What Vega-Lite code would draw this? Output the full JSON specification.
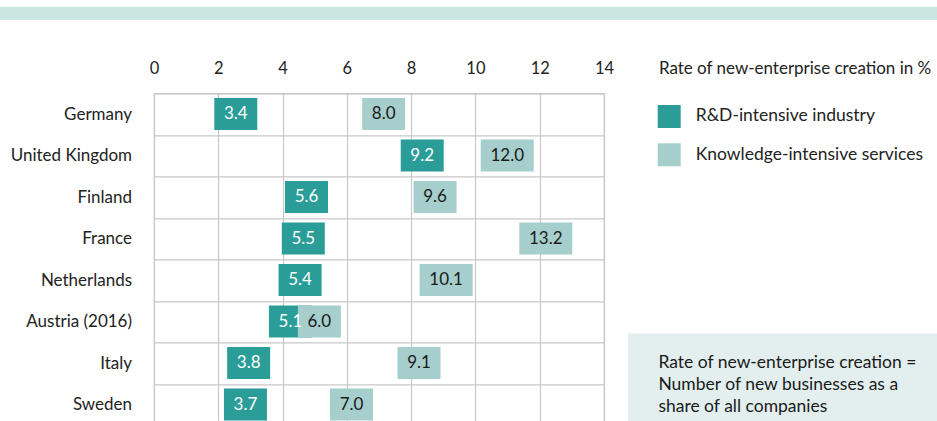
{
  "$schema": "https://vega.github.io/schema/vega-lite/v6.json",
  "padding": {"top": 6.7, "left": 0, "right": 0, "bottom": 0},
  "background": "white",
  "config": {"font": "Lato", "view": {"stroke": null}},
  "datasets": {
    "rates": [
      {"country": "Germany", "series": "R&D-intensive industry", "value": 3.4},
      {"country": "Germany", "series": "Knowledge-intensive services", "value": 8.0},
      {"country": "United Kingdom", "series": "R&D-intensive industry", "value": 9.2},
      {"country": "United Kingdom", "series": "Knowledge-intensive services", "value": 12.0},
      {"country": "Finland", "series": "R&D-intensive industry", "value": 5.6},
      {"country": "Finland", "series": "Knowledge-intensive services", "value": 9.6},
      {"country": "France", "series": "R&D-intensive industry", "value": 5.5},
      {"country": "France", "series": "Knowledge-intensive services", "value": 13.2},
      {"country": "Netherlands", "series": "R&D-intensive industry", "value": 5.4},
      {"country": "Netherlands", "series": "Knowledge-intensive services", "value": 10.1},
      {"country": "Austria (2016)", "series": "R&D-intensive industry", "value": 5.1},
      {"country": "Austria (2016)", "series": "Knowledge-intensive services", "value": 6.0},
      {"country": "Italy", "series": "R&D-intensive industry", "value": 3.8},
      {"country": "Italy", "series": "Knowledge-intensive services", "value": 9.1},
      {"country": "Sweden", "series": "R&D-intensive industry", "value": 3.7},
      {"country": "Sweden", "series": "Knowledge-intensive services", "value": 7.0}
    ]
  },
  "bounds": "flush",
  "spacing": 72.6,
  "vconcat": [
    {
      "width": 937, "height": 13.3,
      "view": {"fill": "#c9e6e1", "stroke": null},
      "data": {"values": []},
      "mark": "point",
      "encoding": {}
    },
    {
      "bounds": "flush",
      "spacing": 24,
      "hconcat": [
        {
          "width": 129.3, "height": 10,
          "data": {"values": []},
          "mark": "point",
          "encoding": {}
        },
        {
          "width": 450, "height": 332,
          "data": {"name": "rates"},
          "view": {"stroke": "#c8c8c8", "strokeWidth": 1.2},
          "encoding": {
            "y": {
              "field": "country", "type": "nominal",
              "sort": ["Germany", "United Kingdom", "Finland", "France", "Netherlands", "Austria (2016)", "Italy", "Sweden"],
              "scale": {"paddingInner": 0, "paddingOuter": 0},
              "axis": {
                "title": null, "domain": false, "ticks": false, "tickSize": 0,
                "labelFontSize": 17, "labelColor": "#222222", "labelPadding": 22.5, "labelLimit": 200,
                "grid": true, "tickBand": "extent", "gridColor": "#c8c8c8", "gridWidth": 1.2
              }
            },
            "x": {
              "field": "value", "type": "quantitative",
              "scale": {"domain": [0, 14], "nice": false, "zero": true},
              "axis": {
                "orient": "top", "values": [0, 2, 4, 6, 8, 10, 12, 14],
                "grid": true, "gridColor": "#c8c8c8", "gridWidth": 1.2,
                "domain": false, "ticks": false, "tickSize": 0,
                "labelFontSize": 16.5, "labelColor": "#222222", "labelPadding": 19.3,
                "labelBaseline": "alphabetic", "labelFlush": false, "labelOverlap": false,
                "title": "Rate of new-enterprise creation in %",
                "titleFontSize": 17, "titleFontWeight": "normal", "titleColor": "#222222",
                "titleX": 504.4, "titleY": -19.3, "titleAlign": "left",
                "titleBaseline": "alphabetic", "titleAngle": 0, "titleLimit": 400
              }
            }
          },
          "layer": [
            {
              "transform": [{"filter": "datum.value < 10"}],
              "mark": {"type": "tick", "thickness": 43, "size": 32, "xOffset": -27.5, "opacity": 1, "orient": "vertical"},
              "encoding": {
                "color": {
                  "field": "series", "type": "nominal",
                  "scale": {"domain": ["R&D-intensive industry", "Knowledge-intensive services"], "range": ["#2a9d98", "#a6cecc"]},
                  "legend": {
                    "orient": "none", "legendX": 657.7, "legendY": 98.3, "title": null,
                    "symbolType": "square", "symbolSize": 529, "symbolStrokeWidth": 0, "symbolOpacity": 1,
                    "labelFontSize": 17.5, "labelColor": "#222222", "labelOffset": 15, "labelLimit": 400,
                    "rowPadding": 15.3, "padding": 0, "direction": "vertical"
                  }
                }
              }
            },
            {
              "transform": [{"filter": "datum.value >= 10"}],
              "mark": {"type": "tick", "thickness": 53, "size": 32, "xOffset": -32.5, "opacity": 1, "orient": "vertical"},
              "encoding": {
                "color": {
                  "field": "series", "type": "nominal",
                  "scale": {"domain": ["R&D-intensive industry", "Knowledge-intensive services"], "range": ["#2a9d98", "#a6cecc"]},
                  "legend": {
                    "orient": "none", "legendX": 657.7, "legendY": 98.3, "title": null,
                    "symbolType": "square", "symbolSize": 529, "symbolStrokeWidth": 0, "symbolOpacity": 1,
                    "labelFontSize": 17.5, "labelColor": "#222222", "labelOffset": 15, "labelLimit": 400,
                    "rowPadding": 15.3, "padding": 0, "direction": "vertical"
                  }
                }
              }
            },
            {
              "transform": [{"filter": "datum.value < 10"}],
              "mark": {"type": "text", "xOffset": -27.5, "fontSize": 17, "baseline": "middle", "align": "center"},
              "encoding": {
                "text": {"field": "value", "type": "quantitative", "format": ".1f"},
                "color": {"condition": {"test": "datum.series === 'R&D-intensive industry'", "value": "#ffffff"}, "value": "#1a1a1a"}
              }
            },
            {
              "transform": [{"filter": "datum.value >= 10"}],
              "mark": {"type": "text", "xOffset": -32.5, "fontSize": 17, "baseline": "middle", "align": "center"},
              "encoding": {
                "text": {"field": "value", "type": "quantitative", "format": ".1f"},
                "color": {"condition": {"test": "datum.series === 'R&D-intensive industry'", "value": "#ffffff"}, "value": "#1a1a1a"}
              }
            }
          ]
        },
        {
          "bounds": "flush",
          "spacing": 40.1,
          "vconcat": [
            {
              "width": 309.7, "height": 200,
              "data": {"values": []},
              "mark": "point",
              "encoding": {}
            },
            {
              "width": 309.7, "height": 100,
              "view": {"fill": "#e2efee", "stroke": null},
              "data": {"values": [{}]},
              "mark": {
                "type": "text",
                "text": ["Rate of new-enterprise creation =", "Number of new businesses as a", "share of all companies"],
                "align": "left", "baseline": "alphabetic", "fontSize": 17.5, "lineHeight": 22,
                "color": "#1a1a1a", "x": 30.4, "y": 34.5
              }
            }
          ]
        }
      ]
    }
  ]
}
